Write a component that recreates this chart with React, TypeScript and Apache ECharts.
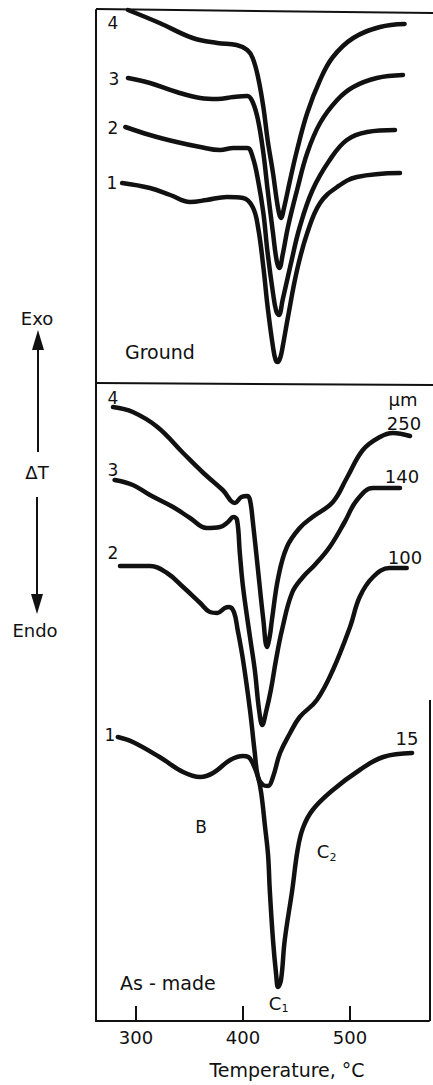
import React, { useEffect, useRef } from 'react';
import * as echarts from 'echarts';

// Temperature axis (°C) tick values
const xTicks = [300, 400, 500];

// Ground samples: [temperature °C, ΔT (arbitrary units)]
const ground4 = [[292.5,37.3],[322,36.0],[353,34.5],[376,34.0],[394,33.8],[404,33.3],[409,32.5],[414,30.6],[419,27.6],[423,24.3],[428,21.0],[432.7,17.5],[435.5,16.5],[438.3,17.5],[444,20.3],[450.5,23.3],[460,27.0],[472,30.3],[484,32.6],[503,34.5],[528,35.6],[551,35.9]];
const ground3 = [[292.5,30.5],[313,30.0],[338,29.1],[360,28.5],[376,28.4],[391,28.6],[404,28.7],[409,28.1],[414,26.3],[419,23.0],[423,19.3],[428,15.0],[431.5,12.2],[434,11.5],[437,12.8],[442,15.6],[450.5,19.3],[460,23.0],[472,26.0],[488,28.3],[503,29.6],[525,30.5],[549.5,30.8]];
const ground2 = [[290,25.6],[313,24.8],[338,24.1],[360,23.6],[378.5,23.3],[391,23.5],[404,23.5],[409,22.6],[414,20.3],[419,17.0],[423,13.0],[428,9.0],[431,7.2],[433.5,6.8],[437,8.3],[444,11.6],[453,15.6],[465,19.3],[481,22.3],[497,24.3],[516,25.1],[542,25.3]];
const ground1 = [[287,20.0],[313,19.5],[332,18.8],[350.5,18.1],[366,18.3],[385,18.6],[400,18.5],[409,17.6],[414,15.6],[419,11.6],[423,7.6],[428,3.6],[430.5,2.3],[432.5,2.1],[435,2.6],[437,3.6],[442,6.6],[450.5,11.3],[460,15.0],[472,18.0],[488,19.6],[506.5,20.6],[546.7,21.0]];

// As-made samples
const asMade4 = [[278.5,61.4],[297,60.9],[320,59.4],[344,56.8],[363,54.8],[381,53.1],[392.5,51.8],[398.5,52.4],[404,52.5],[406.5,52.1],[409,50.1],[414,45.1],[419,40.1],[422.4,37.4],[425,38.5],[427,40.1],[433,44.4],[441,47.4],[453,49.3],[465,50.4],[484,51.9],[497,54.3],[512,57.1],[528,58.4],[540,58.8],[556,58.5]];
const asMade3 = [[280,54.1],[297,53.6],[313,52.6],[334.6,51.4],[350.5,50.3],[366,49.3],[378.5,49.4],[386,49.9],[391,50.4],[394.4,50.1],[397,46.8],[400,43.4],[406.5,38.4],[411,35.1],[415,31.1],[418,29.6],[421.5,30.9],[426,33.1],[430.8,36.1],[436.4,39.1],[445.8,42.8],[456,44.4],[467,45.6],[481,47.4],[495,49.9],[506.5,52.1],[521.5,53.3],[546.7,53.3]];
const asMade2 = [[285,45.5],[313,45.5],[329,44.8],[344,43.4],[360,41.8],[369,40.9],[376,40.8],[383,41.3],[387,41.4],[391.5,40.9],[395,39.1],[400,36.1],[406.5,31.1],[411,26.8],[414,24.4],[418.7,23.6],[423.4,23.5],[428,24.4],[434.6,26.8],[444,28.8],[453,30.4],[469,32.1],[484,35.1],[500,39.4],[509,42.4],[521.5,44.4],[537,45.3],[553,45.3]];
const asMade1 = [[283,28.4],[297,27.9],[322,26.4],[344,24.9],[360,24.4],[372,24.8],[388,26.1],[400,26.5],[405,26.4],[409,25.8],[414,24.4],[417,22.8],[420.6,19.4],[423.4,16.6],[425,13.1],[428,8.1],[431,4.6],[432.7,3.4],[435.5,4.1],[439,8.1],[446,13.1],[451,17.1],[456,19.3],[465,21.1],[484,23.1],[509,25.1],[531,26.4],[558,26.8]];

const curveNames = ['1', '2', '3', '4'];
const sizeLabels = ['15', '100', '140', '250'];

const FONT = 'DejaVu Sans';
const INK = '#111';

function txt(text: string, x: number, y: number, size = 18, align: any = 'center') {
  return {
    type: 'text', x, y,
    style: { text, fontSize: size, fontFamily: FONT, fill: INK, textAlign: align, textVerticalAlign: 'middle' },
  };
}

export default function App() {
  const ref = useRef<HTMLDivElement>(null);
  useEffect(() => {
    const chart = echarts.init(ref.current!, null, { renderer: 'svg' });
    const lineSeries = (data: number[][], idx: number, name: string) => ({
      type: 'line', name, data, xAxisIndex: idx, yAxisIndex: idx,
      showSymbol: false, smooth: 0.4, clip: false, silent: true,
      lineStyle: { color: INK, width: 4.5, cap: 'round', join: 'round' },
    });
    const option: any = {
      animation: false,
      backgroundColor: '#fff',
      grid: [
        { left: 96, right: 4, top: 10, height: 373 },
        { left: 96, right: 4, top: 383, height: 638 },
      ],
      xAxis: [
        { type: 'value', gridIndex: 0, min: 262.6, max: 573.8, show: true,
          axisLine: { show: false }, axisTick: { show: false }, axisLabel: { show: false }, splitLine: { show: false } },
        { type: 'value', gridIndex: 1, min: 262.6, max: 573.8,
          axisLine: { show: true, onZero: false, lineStyle: { color: INK, width: 2 } },
          axisTick: { show: true, inside: true, length: 15, customValues: xTicks, lineStyle: { color: INK, width: 2 } },
          axisLabel: { show: true, margin: 7, customValues: xTicks, fontSize: 18, fontFamily: FONT, color: INK },
          splitLine: { show: false } },
      ],
      yAxis: [
        { type: 'value', gridIndex: 0, min: 0, max: 37.3,
          axisLine: { show: true, onZero: false, lineStyle: { color: INK, width: 2 } },
          axisTick: { show: false }, axisLabel: { show: false }, splitLine: { show: false } },
        { type: 'value', gridIndex: 1, min: 0, max: 63.8,
          axisLine: { show: true, onZero: false, lineStyle: { color: INK, width: 2 } },
          axisTick: { show: false }, axisLabel: { show: false }, splitLine: { show: false } },
      ],
      series: [
        lineSeries(ground1, 0, 'Ground ' + curveNames[0]),
        lineSeries(ground2, 0, 'Ground ' + curveNames[1]),
        lineSeries(ground3, 0, 'Ground ' + curveNames[2]),
        lineSeries(ground4, 0, 'Ground ' + curveNames[3]),
        lineSeries(asMade1, 1, 'As-made ' + sizeLabels[0]),
        lineSeries(asMade2, 1, 'As-made ' + sizeLabels[1]),
        lineSeries(asMade3, 1, 'As-made ' + sizeLabels[2]),
        lineSeries(asMade4, 1, 'As-made ' + sizeLabels[3]),
      ],
      graphic: [
        // borders
        { type: 'line', shape: { x1: 96, y1: 9, x2: 433, y2: 13 }, style: { stroke: INK, lineWidth: 2 } },
        { type: 'line', shape: { x1: 96, y1: 383, x2: 433, y2: 385 }, style: { stroke: INK, lineWidth: 2 } },
        { type: 'line', shape: { x1: 430, y1: 700, x2: 430, y2: 1021 }, style: { stroke: INK, lineWidth: 2 } },
        // Exo / Endo arrows
        { type: 'line', shape: { x1: 38, y1: 452, x2: 38, y2: 345 }, style: { stroke: INK, lineWidth: 2 } },
        { type: 'polygon', shape: { points: [[38, 330], [32, 350], [44, 350]] }, style: { fill: INK } },
        { type: 'line', shape: { x1: 37, y1: 497, x2: 37, y2: 600 }, style: { stroke: INK, lineWidth: 2 } },
        { type: 'polygon', shape: { points: [[37, 614], [31, 594], [43, 594]] }, style: { fill: INK } },
        txt('Exo', 37, 318, 18),
        txt('ΔT', 37, 472, 18),
        txt('Endo', 35, 630, 18),
        // top panel curve numbers
        txt(curveNames[3], 113, 23, 17),
        txt(curveNames[2], 114, 79, 17),
        txt(curveNames[1], 113, 128, 17),
        txt(curveNames[0], 112, 183, 17),
        txt('Ground', 125, 352, 19, 'left'),
        // bottom panel curve numbers
        txt(curveNames[3], 113, 398, 17),
        txt(curveNames[2], 113, 470, 17),
        txt(curveNames[1], 113, 553, 17),
        txt(curveNames[0], 110, 735, 17),
        txt('μm', 403, 399, 18),
        txt(sizeLabels[3], 404, 423, 18),
        txt(sizeLabels[2], 402, 476, 18),
        txt(sizeLabels[1], 405, 557, 18),
        txt(sizeLabels[0], 407, 738, 18),
        txt('B', 201, 827, 17),
        txt('C', 323, 851, 18),
        txt('2', 333, 857, 11),
        txt('C', 275, 1003, 18),
        txt('1', 285, 1008, 11),
        txt('As - made', 120, 983, 19, 'left'),
        txt('Temperature, °C', 287, 1070, 19),
      ],
    };
    chart.setOption(option);
    return () => chart.dispose();
  }, []);
  return <div ref={ref} style={{ position: 'fixed', left: 0, top: 0, width: 433, height: 1085, background: '#fff' }} />;
}
